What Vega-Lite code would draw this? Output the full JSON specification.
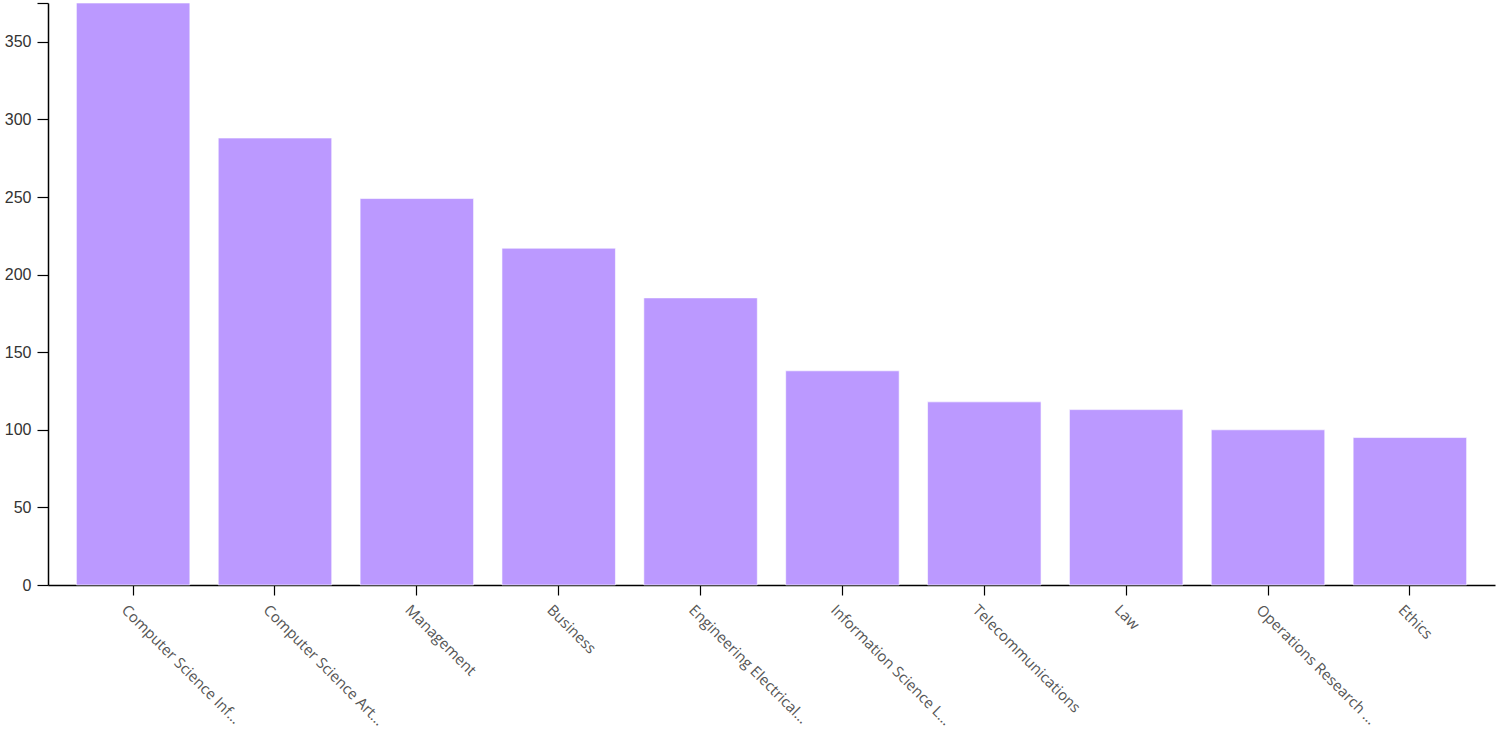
{
  "$schema": "https://vega.github.io/schema/vega-lite/v6.json",
  "width": 1447,
  "height": 582,
  "autosize": {"type": "none"},
  "padding": {"left": 48, "top": 3, "right": 5, "bottom": 146},
  "background": "white",
  "config": {"view": {"stroke": null}},
  "data": {
    "values": [
      {"category": "Computer Science Information Systems", "count": 375},
      {"category": "Computer Science Artificial Intelligence", "count": 288},
      {"category": "Management", "count": 249},
      {"category": "Business", "count": 217},
      {"category": "Engineering Electrical Electronic", "count": 185},
      {"category": "Information Science Library Science", "count": 138},
      {"category": "Telecommunications", "count": 118},
      {"category": "Law", "count": 113},
      {"category": "Operations Research Management Science", "count": 100},
      {"category": "Ethics", "count": 95}
    ]
  },
  "mark": {"type": "bar", "color": "#bb99ff", "stroke": "#ffffff", "strokeOpacity": 0.6, "strokeWidth": 1},
  "encoding": {
    "x": {
      "field": "category",
      "type": "nominal",
      "sort": null,
      "scale": {"paddingInner": 0.2, "paddingOuter": 0.2},
      "axis": {
        "title": null,
        "labelAngle": 45,
        "labelAlign": "left",
        "labelBaseline": "top",
        "labelFont": "Open Sans",
        "labelFontSize": 15,
        "labelColor": "#555555",
        "labelLimit": 164.5,
        "labelPadding": 7,
        "labelOffset": -4,
        "tickSize": 10,
        "tickColor": "#000000",
        "domainColor": "#000000",
        "domainWidth": 1.5,
        "tickWidth": 1.2
      }
    },
    "y": {
      "field": "count",
      "type": "quantitative",
      "scale": {"domain": [0, 375], "nice": false},
      "axis": {
        "title": null,
        "values": [0, 50, 100, 150, 200, 250, 300, 350, 375],
        "labelExpr": "datum.value == 375 ? '' : datum.label",
        "grid": false,
        "labelFont": "Liberation Sans",
        "labelFontSize": 16,
        "labelColor": "#333333",
        "labelPadding": 6,
        "tickSize": 11,
        "tickColor": "#000000",
        "tickWidth": 1.2,
        "domainColor": "#000000",
        "domainWidth": 1.5
      }
    }
  }
}
